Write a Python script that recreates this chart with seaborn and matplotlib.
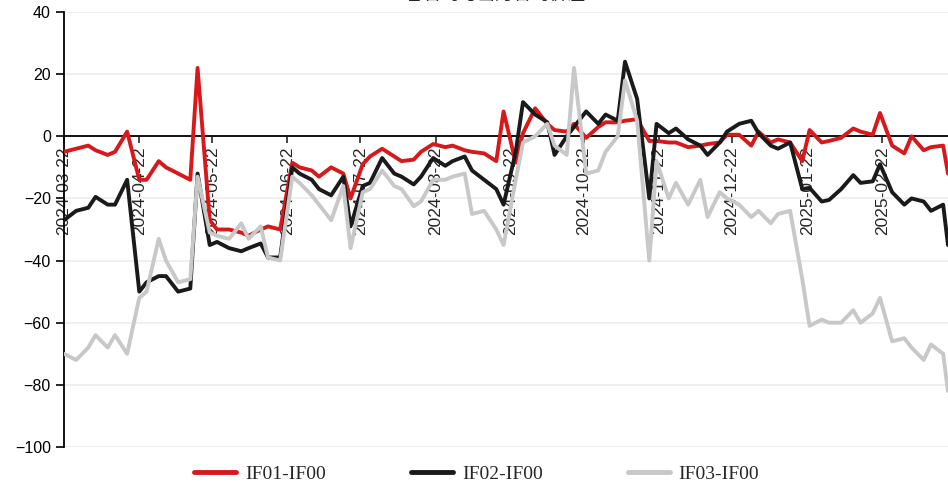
import pandas as pd
import matplotlib
matplotlib.use("Agg")
import matplotlib.pyplot as plt
import matplotlib.dates as mdates
import seaborn as sns

# sample dates: every 3rd trading day plus the last day
dates = list(pd.bdate_range("2024-03-22", "2025-03-21", freq="3B")) + [pd.Timestamp("2025-03-21")]

if01 = [-5, -4, -3, -4.5, -6, -5, 1.5, -14, -14, -8, -10, -12, -14, 22, -27, -30, -30, -31, -32, -30,
        -29, -30, -8.5, -10, -11, -13, -10, -12, -20, -9, -6.5, -4, -6.5, -8, -7.5, -5, -2.5, -3.5, -3, -4.5,
        -5, -5.5, -8, 8, -8.5, 1, 9, 4, 2, 1.5, 4, -0.5, 3, 4.5, 4.5, 5, 5.5, -1.5, -1.5, -2,
        -2, -3.5, -3, -2.5, -2, 0.5, 0.5, -3, 1.5, -2, -1, -2, -8, 2, -2, -1.5, -0.5, 2.5, 1.5, 0.5,
        7.5, -3, -5.5, 0, -4.5, -3.5, -3, -12]
if02 = [-27, -24, -23, -19.5, -22, -22, -14, -50, -47, -45, -45, -50, -49, -12, -35, -34, -36, -37, -36, -34.5,
        -39, -39, -10, -12, -14, -17, -19, -13, -29, -16, -15, -7, -12, -13, -15.5, -13, -7, -9.5, -8, -6.5,
        -11, -14, -17, -22, -5, 11, 7, 4.5, -6, 0, 3, 8, 4, 7, 5, 24, 12, -20, 4, 1,
        2.5, -1, -3, -6, -2, 1.5, 4, 5, 1, -3, -4, -2, -17, -16.6, -21, -20.5, -17, -12.5, -15, -14.5,
        -9, -18, -22, -20, -21, -24, -22, -35]
if03 = [-70, -72, -68, -64, -68, -64, -70, -52, -50, -33, -40, -47, -46, -13, -31, -32, -33, -28, -33, -29,
        -39, -40, -13, -15, -19, -22, -27, -16, -36, -18, -17, -11, -16, -17, -22.5, -21, -14, -14, -13, -12,
        -25, -24, -30, -35, -14, -2, 0, 4, -3, -6, 22, -12, -11, -5, 0, 18, 5, -40, -8, -20,
        -15, -22, -14, -26, -18, -20, -22, -26, -24, -28, -25, -24, -46, -61, -59, -60, -60, -56, -60, -57,
        -52, -66, -65, -68, -72, -67, -70, -82]

series = ["IF01-IF00", "IF02-IF00", "IF03-IF00"]
colors = ["#d7191c", "#1a1a1a", "#c8c8c8"]
title = "IF各合约与当月合约价差"
tick_dates = pd.date_range("2024-03-01", "2025-02-01", freq="MS") + pd.Timedelta(days=21)

df = pd.DataFrame({"date": dates, series[0]: if01, series[1]: if02, series[2]: if03})
df = df.melt(id_vars="date", var_name="合约", value_name="价差")

sns.set_style("white")
plt.rcParams["font.family"] = ["Liberation Sans", "Noto Sans CJK SC", "DejaVu Sans"]

fig = plt.figure(figsize=(9.48, 4.87), dpi=100)
ax = fig.add_axes([64 / 948, 1 - 447 / 487, 1 - 64 / 948, 435 / 487])

sns.lineplot(data=df, x="date", y="价差", hue="合约", palette=dict(zip(series, colors)),
             linewidth=2.8, ax=ax, zorder=3, legend=True)

ax.set_ylim(-100, 40)
ax.set_yticks(range(-100, 41, 20))
ax.set_xlim(pd.Timestamp("2024-03-22"), pd.Timestamp("2025-03-21"))
ax.set_xticks(tick_dates)
ax.xaxis.set_major_formatter(mdates.DateFormatter("%Y-%m-%d"))
ax.set_xlabel("")
ax.set_ylabel("")

ax.grid(axis="y", color="#ececec", linewidth=1.2)
ax.grid(axis="x", visible=False)
ax.spines["top"].set_visible(False)
ax.spines["right"].set_visible(False)
ax.spines["bottom"].set_position(("data", 0))
ax.spines["bottom"].set_color("black")
ax.spines["bottom"].set_linewidth(1.3)
ax.spines["left"].set_color("black")
ax.spines["left"].set_linewidth(1.3)
ax.tick_params(axis="y", direction="out", length=6, width=1.2, labelsize=11.5, colors="black", left=True)
ax.tick_params(axis="x", direction="out", length=5, width=1.2, labelsize=12.5, pad=2, bottom=True)
for lab in ax.get_xticklabels():
    lab.set_rotation(90)
    lab.set_va("top")
    lab.set_ha("center")
    lab.set_clip_on(False)

handles, labels = ax.get_legend_handles_labels()
ax.get_legend().remove()
for h in handles:
    h.set_linewidth(3.5)
fig.legend(handles, labels, loc="center", bbox_to_anchor=(0.503, 1 - 474 / 487), ncol=3,
           frameon=False, handlelength=2.15, handletextpad=0.45, columnspacing=4.4,
           prop={"family": "Liberation Serif", "size": 14})

fig.text(0.515, 1 - 4 / 487, title, ha="center", va="bottom", fontsize=13,
         family=["Noto Sans CJK SC", "DejaVu Sans"])

plt.savefig("out.png", dpi=100)
